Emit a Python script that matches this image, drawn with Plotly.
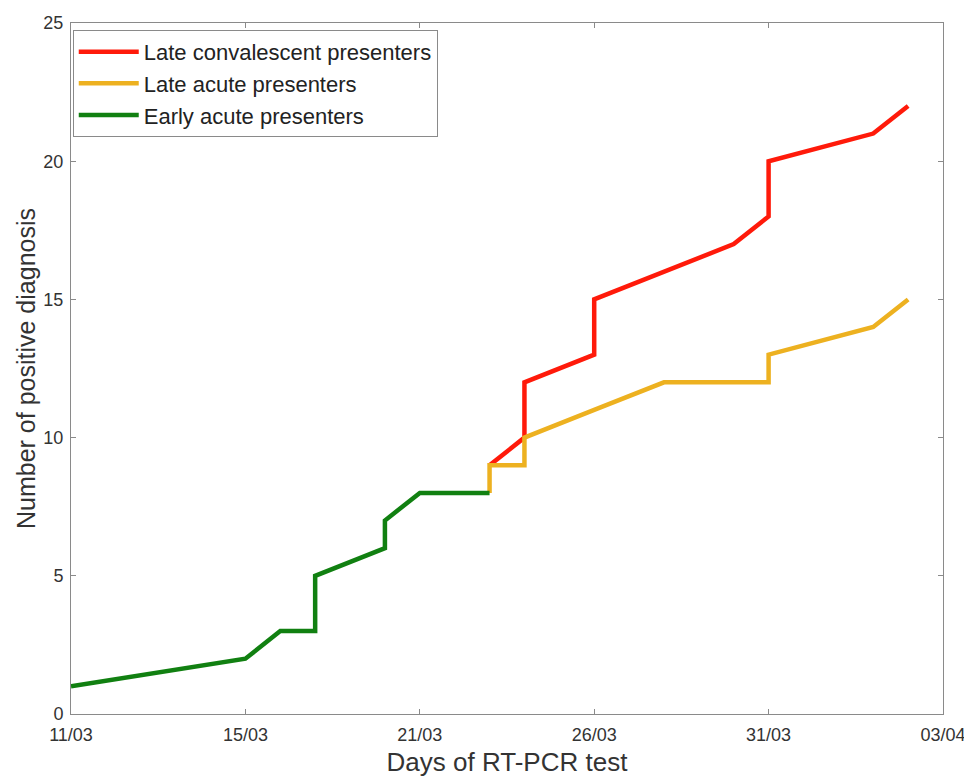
import plotly.graph_objects as go

# Day index along the x axis (ticks every 5 test-day indices)
tick_positions = [0, 5, 10, 15, 20, 25]
tick_labels = ["11/03", "15/03", "21/03", "26/03", "31/03", "03/04"]
y_ticks = [0, 5, 10, 15, 20, 25]

late_conv_x = [12, 13, 13, 15, 15, 17, 19, 20, 20, 23, 24]
late_conv_y = [9, 10, 12, 13, 15, 16, 17, 18, 20, 21, 22]

late_acute_x = [12, 12, 13, 13, 15, 17, 20, 20, 23, 24]
late_acute_y = [8, 9, 9, 10, 11, 12, 12, 13, 14, 15]

early_acute_x = [0, 5, 6, 7, 7, 9, 9, 10, 12]
early_acute_y = [1, 2, 3, 3, 5, 6, 7, 8, 8]

names = ["Late convalescent presenters", "Late acute presenters", "Early acute presenters"]
colors = ["#FF1A0A", "#EDB120", "#118011"]

fig = go.Figure()
for i, (xs, ys, nm, c) in enumerate([
    (late_conv_x, late_conv_y, names[0], colors[0]),
    (late_acute_x, late_acute_y, names[1], colors[1]),
    (early_acute_x, early_acute_y, names[2], colors[2]),
]):
    fig.add_trace(go.Scatter(x=xs, y=ys, mode="lines", name=nm, legendgroup=f"g{i}",
                             line=dict(color=c, width=4.5)))

font_family = "Liberation Sans, Arial, sans-serif"
axis_common = dict(
    showgrid=False, zeroline=False, showline=True, linecolor="#8a8a8a",
    linewidth=1, mirror="ticks", ticks="inside", ticklen=5, tickcolor="#8a8a8a",
    tickfont=dict(family=font_family, size=18, color="#333333"),
    automargin=False, ticklabeloverflow="allow",
)

# the page body adds an 8px offset, so the figure is 8px smaller
fig.update_layout(
    width=964, height=772,
    margin=dict(l=63, r=29, t=15, b=66),
    paper_bgcolor="white", plot_bgcolor="white",
    font=dict(family=font_family, color="#333333"),
    showlegend=True,
    legend=dict(
        x=0.002, y=0.99, xanchor="left", yanchor="top",
        bgcolor="white", bordercolor="#8a8a8a", borderwidth=1,
        font=dict(family=font_family, size=22, color="#222222"),
        itemwidth=60, tracegroupgap=0,
    ),
    xaxis=dict(
        range=[0, 25], tickvals=tick_positions, ticktext=tick_labels,
        ticklabelstandoff=4,
        title=dict(text="Days of RT-PCR test", font=dict(family=font_family, size=26, color="#333333"), standoff=9),
        **axis_common,
    ),
    yaxis=dict(
        range=[0, 25], tickvals=y_ticks,
        ticklabelstandoff=3,
        title=dict(text="Number of positive diagnosis", font=dict(family=font_family, size=25, color="#333333"), standoff=0),
        **axis_common,
    ),
)

fig.write_html("out.html")
